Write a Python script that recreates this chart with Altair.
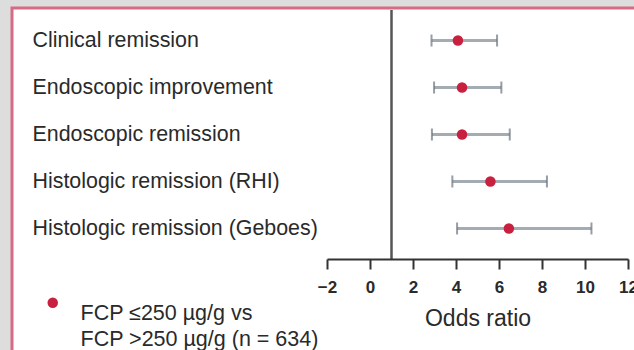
import altair as alt
import pandas as pd

# Outcomes, odds ratios and 95% confidence limits
outcomes = [
    "Clinical remission",
    "Endoscopic improvement",
    "Endoscopic remission",
    "Histologic remission (RHI)",
    "Histologic remission (Geboes)",
]
odds_ratio = [4.09, 4.28, 4.28, 5.60, 6.46]
ci_low = [2.86, 2.98, 2.88, 3.83, 4.05]
ci_high = [5.91, 6.11, 6.50, 8.23, 10.30]
group_label = "FCP \u2264250 \u00b5g/g vs|FCP >250 \u00b5g/g (n = 634)"

x_ticks = [-2, 0, 2, 4, 6, 8, 10, 12]
reference_or = [1]

df = pd.DataFrame({
    "outcome": outcomes,
    "or": odds_ratio,
    "lo": ci_low,
    "hi": ci_high,
    "group": [group_label] * len(outcomes),
})

FONT = "Liberation Sans"
W, H = 301, 249

x_scale = alt.Scale(domain=[-2, 12], nice=False, zero=False)
y_scale = alt.Scale(type="point", domain=outcomes, padding=0.65)

x_axis = alt.Axis(
    values=x_ticks, title="Odds ratio", grid=False, zindex=1,
    domainColor="#333333", domainWidth=2,
    tickColor="#333333", tickWidth=2, tickSize=10,
    labelFont=FONT, labelFontSize=17, labelFontWeight="bold", labelColor="#2a2a2a",
    labelPadding=10, labelFlush=False,
    titleFont=FONT, titleFontSize=23, titleFontWeight="normal", titleColor="#2a2a2a",
    titlePadding=12,
)
y_axis = alt.Axis(
    title=None, domain=False, ticks=False, grid=False, zindex=1,
    labelAlign="left", labelPadding=295, labelLimit=400,
    labelFont=FONT, labelFontSize=21.4, labelColor="#2a2a2a",
)

base = alt.Chart(df)

# white panel with a pink frame behind everything
panel = alt.Chart(pd.DataFrame({"k": [0]})).mark_rect(
    fill="white", stroke="#d66b86", strokeWidth=3
).encode(
    x=alt.value(-315), x2=alt.value(330), y=alt.value(-2), y2=alt.value(360)
)

ref_line = alt.Chart(pd.DataFrame({"v": reference_or})).mark_rule(
    color="#555555", strokeWidth=2.5
).encode(
    x=alt.X("v:Q", scale=x_scale, axis=x_axis),
    y=alt.value(0), y2=alt.value(H),
)

bars = base.mark_rule(color="#a3abb3", strokeWidth=3).encode(
    x=alt.X("lo:Q", scale=x_scale),
    x2="hi:Q",
    y=alt.Y("outcome:N", scale=y_scale, axis=y_axis, sort=outcomes),
)

caps_lo = base.mark_tick(color="#6b747d", thickness=2, size=12).encode(
    x=alt.X("lo:Q", scale=x_scale),
    y=alt.Y("outcome:N", scale=y_scale, sort=outcomes),
)
caps_hi = base.mark_tick(color="#6b747d", thickness=2, size=12).encode(
    x=alt.X("hi:Q", scale=x_scale),
    y=alt.Y("outcome:N", scale=y_scale, sort=outcomes),
)

points = base.mark_point(filled=True, size=110, opacity=1, shape="circle").encode(
    x=alt.X("or:Q", scale=x_scale),
    y=alt.Y("outcome:N", scale=y_scale, sort=outcomes),
    color=alt.Color(
        "group:N",
        scale=alt.Scale(range=["#c8203f"]),
        legend=alt.Legend(
            title=None, orient="none", legendX=-285, legendY=282, padding=0,
            symbolType="circle", symbolSize=110, symbolStrokeWidth=0,
            labelExpr="split(datum.label, '|')",
            labelFont=FONT, labelFontSize=21.5, labelColor="#2a2a2a",
            labelOffset=17, labelLimit=400,
            labelBaseline="top",
        ),
    ),
)

chart = alt.layer(panel, ref_line, bars, caps_lo, caps_hi, points).properties(
    width=W, height=H,
    autosize=alt.AutoSizeParams(type="none"),
    padding={"left": 327, "top": 10, "right": 6, "bottom": 91},
    background="#dddddd",
).configure(
    view=alt.ViewConfig(strokeWidth=0),
    style={"guide-label": {"lineHeight": 26}},
)

chart.save("out.html", embed_options={"renderer": "svg", "actions": False})
